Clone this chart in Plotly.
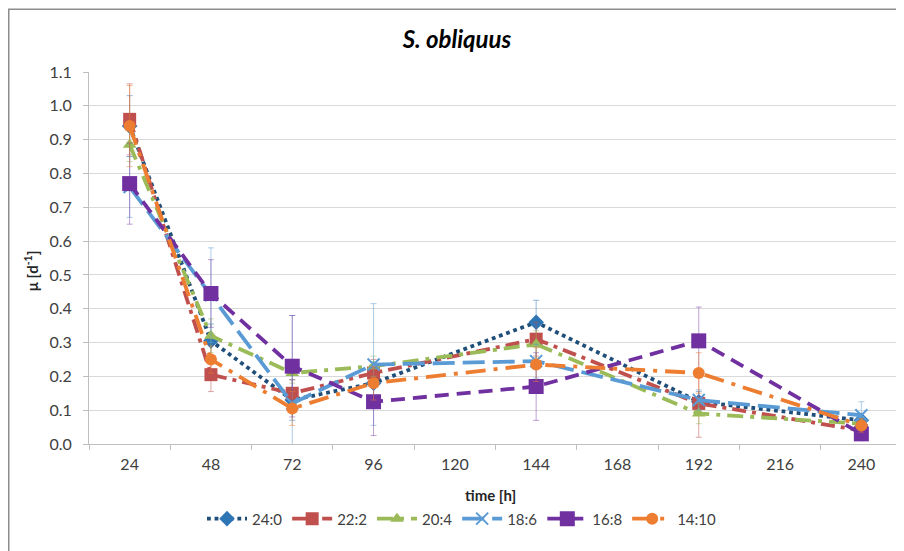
import plotly.graph_objects as go

hours = [24, 48, 72, 96, 144, 192, 240]
tick_hours = [24, 48, 72, 96, 120, 144, 168, 192, 216, 240]

s24_0 = [0.94, 0.305, 0.13, 0.18, 0.36, 0.125, 0.07]
e24_0 = [0.09, 0.05, 0.06, 0.05, 0.065, 0.03, 0.02]
s22_2 = [0.96, 0.205, 0.15, 0.21, 0.31, 0.12, 0.04]
e22_2 = [0.105, 0.05, 0.04, 0.04, 0.05, 0.10, 0.02]
s20_4 = [0.885, 0.32, 0.21, 0.23, 0.295, 0.09, 0.06]
e20_4 = [0.05, 0.05, 0.03, 0.03, 0.04, 0.03, 0.02]
s18_6 = [0.76, 0.44, 0.12, 0.235, 0.245, 0.13, 0.085]
e18_6 = [0.09, 0.14, 0.26, 0.18, 0.05, 0.03, 0.04]
s16_8 = [0.77, 0.445, 0.23, 0.125, 0.17, 0.305, 0.03]
e16_8 = [0.12, 0.10, 0.15, 0.10, 0.10, 0.10, 0.02]
s14_10 = [0.94, 0.25, 0.105, 0.18, 0.235, 0.21, 0.055]
e14_10 = [0.12, 0.04, 0.05, 0.05, 0.05, 0.06, 0.02]

series = [
    ("24:0", s24_0, e24_0, "#1F4E79", "#2E75B6", "dot", "diamond", 12, "rgba(46,117,182,0.5)"),
    ("22:2", s22_2, e22_2, "#C0504D", "#C0504D", "14px,6px,4px,6px", "square", 13, "rgba(192,80,77,0.5)"),
    ("20:4", s20_4, e20_4, "#9BBB59", "#9BBB59", "16px,7px,4px,7px", "triangle-up", 12, "rgba(155,187,89,0.5)"),
    ("18:6", s18_6, e18_6, "#5B9BD5", "#5B9BD5", "22px,8px", "x-thin", 12, "rgba(91,155,213,0.5)"),
    ("16:8", s16_8, e16_8, "#7030A0", "#7030A0", "14px,8px", "square", 15, "rgba(112,48,160,0.45)"),
    ("14:10", s14_10, e14_10, "#ED7D31", "#ED7D31", "20px,8px,4px,8px", "circle", 12, "rgba(237,125,49,0.5)"),
]

fig = go.Figure()
for name, vals, errs, lc, mc, dash, sym, size, ec in series:
    marker = dict(symbol=sym, size=size, color=mc)
    if sym == "x-thin":
        marker["line"] = dict(color=mc, width=2)
    fig.add_trace(go.Scatter(
        x=hours, y=vals, name=name, mode="lines+markers",
        line=dict(color=lc, width=3.8, dash=dash),
        marker=marker,
        error_y=dict(type="data", array=errs, visible=True, color=ec, thickness=1, width=3),
    ))

W, H = 896, 543
L, T, R, B = 81, 63.5, 2, 107
pw, ph = W - L - R, H - T - B

fig.update_layout(
    width=W, height=H,
    margin=dict(l=L, r=R, t=T, b=B, autoexpand=False),
    paper_bgcolor="white", plot_bgcolor="white",
    font=dict(family="Lato, Open Sans, sans-serif", size=15, color="#404040"),
    title=dict(text="<b><i>S. obliquus</i></b>", x=449 / W, xanchor="center",
               y=1 - 32 / H, yanchor="middle",
               font=dict(size=24, color="#000000")),
    showlegend=True,
    legend=dict(orientation="h", x=(462 - 89) / pw, xanchor="center", y=-75 / ph, yanchor="middle",
                font=dict(size=15, color="#404040"), itemwidth=40, tracegroupgap=0),
    xaxis=dict(
        range=[12, 252], tickvals=tick_hours, ticktext=[str(t) for t in tick_hours],
        showgrid=False, zeroline=False, showline=True, linecolor="#BFBFBF", linewidth=1,
        ticks="", tickfont=dict(size=16, color="#404040"), ticklabelstandoff=6,
        automargin=False,
        minor=dict(tick0=12, dtick=24, ticks="outside", ticklen=5, tickcolor="#BFBFBF", showgrid=False),
    ),
    yaxis=dict(
        range=[0, 1.1], dtick=0.1, tickformat=".1f",
        showgrid=True, gridcolor="#D9D9D9", gridwidth=1, zeroline=False,
        showline=True, linecolor="#BFBFBF", linewidth=1,
        ticks="outside", ticklen=5, tickcolor="#BFBFBF", ticklabelstandoff=8,
        tickfont=dict(size=16, color="#404040"), automargin=False,
    ),
    annotations=[
        dict(text="<b>time [h]</b>", xref="paper", yref="paper",
             x=(490 - 89) / pw, y=-(495 - 444) / ph, xanchor="center", yanchor="middle",
             showarrow=False, font=dict(size=15, color="#262626")),
        dict(text="<b>μ [d<sup>-1</sup>]</b>", xref="paper", yref="paper",
             x=(31 - 89) / pw, y=(444 - 270) / ph, xanchor="center", yanchor="middle",
             textangle=-90, showarrow=False, font=dict(size=15, color="#262626")),
    ],
    shapes=[dict(type="rect", xref="paper", yref="paper",
                 x0=(0.75 - L) / pw, x1=1.05, y0=-0.35, y1=(H - B - 0.75) / ph,
                 line=dict(color="#8C8C8C", width=1.5), fillcolor="rgba(0,0,0,0)", layer="below")],
)

fig.write_html("out.html")
